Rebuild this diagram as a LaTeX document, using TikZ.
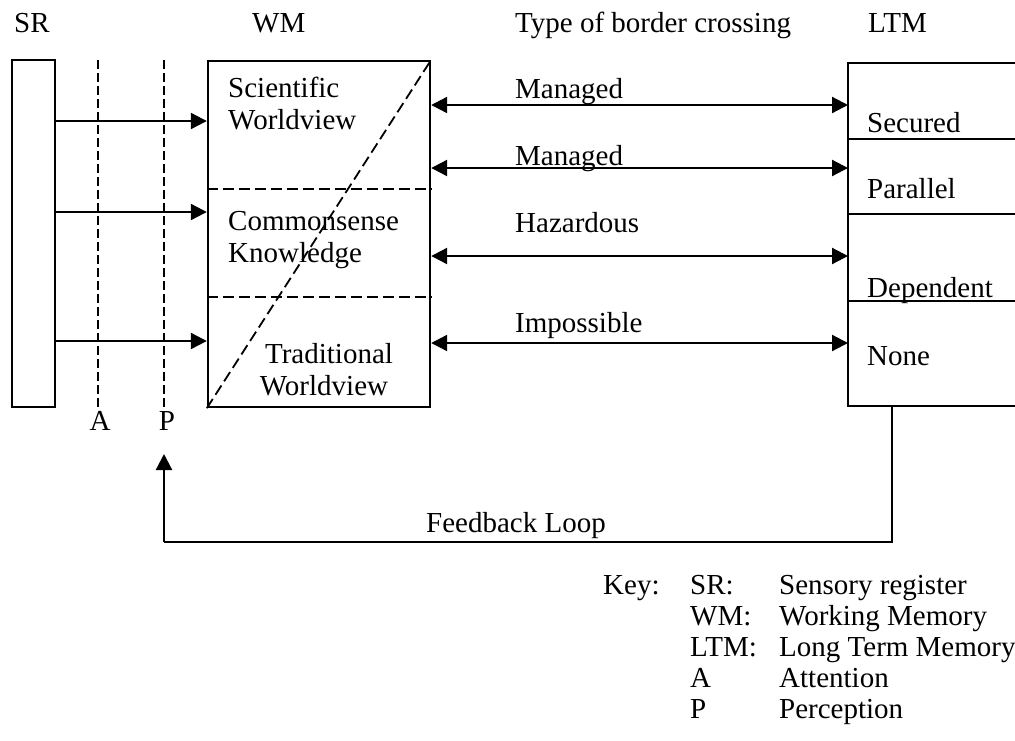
\documentclass[tikz,border=0pt]{standalone}
\usepackage{fontspec}
\setmainfont{Liberation Serif}
\usetikzlibrary{arrows.meta}
\begin{document}
\begin{tikzpicture}[x=1pt,y=-1pt,
  txt/.style={inner sep=0pt, font=\fontsize{29}{30}\selectfont},
  box/.style={draw, line width=2.4pt, inner sep=0pt},
  arr/.style={line width=2.2pt, -{Triangle[length=16pt,width=16pt]}},
  darr/.style={line width=2.2pt, {Triangle[length=16pt,width=16pt]}-{Triangle[length=16pt,width=16pt]}},
  fline/.style={line width=2.2pt},
  dline/.style={line width=1.6pt, dash pattern=on 9pt off 4pt},
  wline/.style={line width=1.8pt, dash pattern=on 11pt off 5pt}]
\useasboundingbox (0,0) rectangle (1015,740);
\fill[white] (0,0) rectangle (1015,740);

% headers
\node[txt, anchor=base west] (hsr) at (14,32) {SR};
\node[txt, anchor=base west] (hwm) at (252,32) {WM};
\node[txt, anchor=base west] (htype) at (515,32) {Type of border crossing};
\node[txt, anchor=base west] (hltm) at (868,32) {LTM};

% SR box
\node[box, minimum width=43pt, minimum height=347pt] (sr) at (33.5,233.5) {};

% attention / perception lines
\coordinate (atop) at (98,60);
\coordinate (abot) at (98,408);
\coordinate (ptop) at (164,60);
\coordinate (pbot) at (164,408);
\draw[dline] (atop) -- (abot);
\draw[dline] (ptop) -- (pbot);
\node[txt, anchor=base] (la) at (100,430) {A};
\node[txt, anchor=base] (lp) at (167,430) {P};

% WM box
\node[box, minimum width=222pt, minimum height=346pt] (wm) at (319,234) {};
\draw[wline] (wm.west |- 0,189) -- (wm.east |- 0,189);
\draw[wline] (wm.west |- 0,297) -- (wm.east |- 0,297);
\draw[wline] (wm.south west) -- (wm.north east);

\node[txt, anchor=base west] (sci1) at (228,97) {Scientific};
\node[txt, anchor=base west] (sci2) at (228,129) {Worldview};
\node[txt, anchor=base west] (com1) at (228,230) {Commonsense};
\node[txt, anchor=base west] (com2) at (228,262) {Knowledge};
\node[txt, anchor=base] (tra1) at (329,363) {Traditional};
\node[txt, anchor=base] (tra2) at (324,395) {Worldview};

% SR -> WM arrows
\draw[arr] (sr.east |- 0,121) -- (wm.west |- 0,121);
\draw[arr] (sr.east |- 0,212) -- (wm.west |- 0,212);
\draw[arr] (sr.east |- 0,341) -- (wm.west |- 0,341);

% LTM box (open on the right)
\coordinate (ltl) at (848,63);
\coordinate (lbl) at (848,406);
\coordinate (ltr) at (1015,63);
\coordinate (lbr) at (1015,406);
\draw[line width=2.4pt] (ltr) -- (ltl) -- (lbl) -- (lbr);
\draw[line width=2pt] (ltl |- 0,139) -- (ltr |- 0,139);
\draw[line width=2pt] (ltl |- 0,214) -- (ltr |- 0,214);
\draw[line width=2pt] (ltl |- 0,301) -- (ltr |- 0,301);

\node[txt, anchor=base west] (sec) at (867,132) {Secured};
\node[txt, anchor=base west] (par) at (867,198) {Parallel};
\node[txt, anchor=base west] (dep) at (867,297) {Dependent};
\node[txt, anchor=base west] (non) at (867,365) {None};

% border crossings
\draw[darr] (wm.east |- 0,105) -- (ltl |- 0,105);
\draw[darr] (wm.east |- 0,168) -- (ltl |- 0,168);
\draw[darr] (wm.east |- 0,256) -- (ltl |- 0,256);
\draw[darr] (wm.east |- 0,343) -- (ltl |- 0,343);
\node[txt, anchor=base west] (m1) at (515,98) {Managed};
\node[txt, anchor=base west] (m2) at (515,165) {Managed};
\node[txt, anchor=base west] (hz) at (515,232) {Hazardous};
\node[txt, anchor=base west] (im) at (515,332) {Impossible};

% feedback loop
\coordinate (fbs) at (892,406);
\coordinate (fbc1) at (892,542);
\coordinate (fbc2) at (164,542);
\coordinate (fbe) at (164,454);
\draw[fline] (fbs) -- (fbc1) -- (fbc2);
\draw[arr] (fbc2) -- (fbe);
\node[txt, anchor=base] (fbl) at (516,532) {Feedback Loop};

% key
\node[txt, anchor=base west] (key) at (603,594) {Key:};
\node[txt, anchor=base west] (k1a) at (690,594) {SR:};
\node[txt, anchor=base west] (k1b) at (779,594) {Sensory register};
\node[txt, anchor=base west] (k2a) at (690,625) {WM:};
\node[txt, anchor=base west] (k2b) at (779,625) {Working Memory};
\node[txt, anchor=base west] (k3a) at (690,656) {LTM:};
\node[txt, anchor=base west] (k3b) at (779,656) {Long Term Memory};
\node[txt, anchor=base west] (k4a) at (690,687) {A};
\node[txt, anchor=base west] (k4b) at (779,687) {Attention};
\node[txt, anchor=base west] (k5a) at (690,718) {P};
\node[txt, anchor=base west] (k5b) at (779,718) {Perception};
\end{tikzpicture}
\end{document}
